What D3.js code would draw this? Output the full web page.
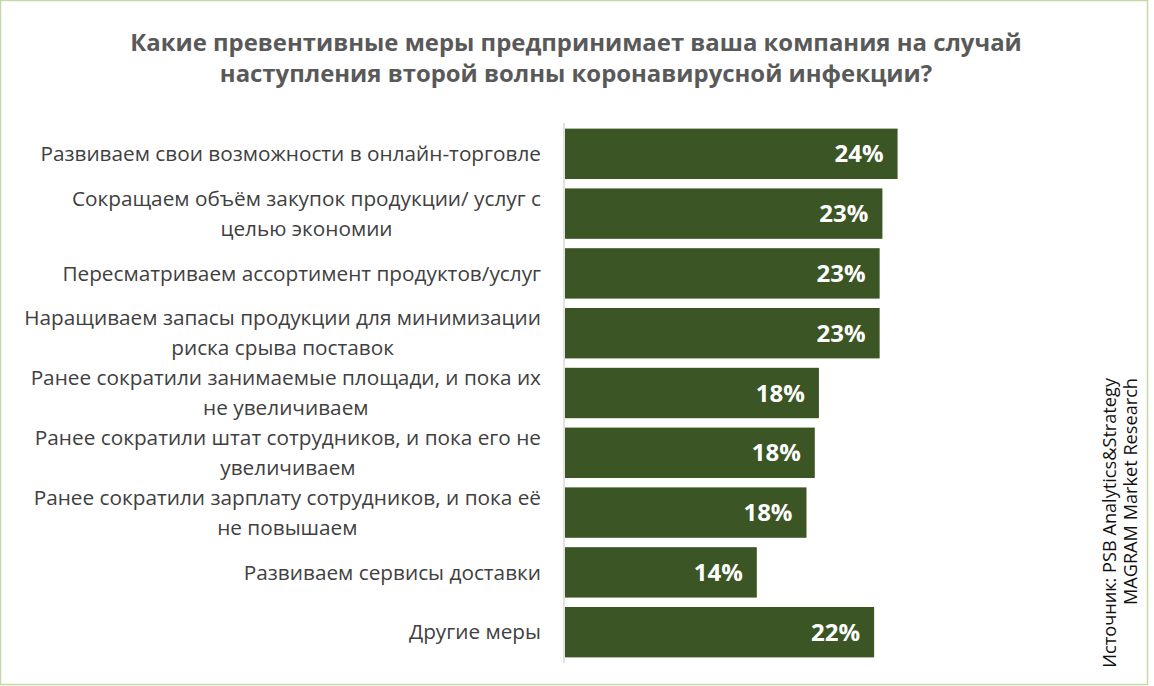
<!DOCTYPE html>
<html>
<head>
<meta charset="utf-8">
<title>Превентивные меры</title>
<script src="https://cdn.jsdelivr.net/npm/d3@7"></script>
<style>
  html, body { margin: 0; padding: 0; background: #fff; }
  svg { display: block; }
  text { font-family: "Open Sans", "DejaVu Sans", sans-serif; }
</style>
</head>
<body>
<div id="chart"></div>
<script>
// data
var titleLines = [
  "Какие превентивные меры предпринимает ваша компания на случай",
  "наступления второй волны коронавирусной инфекции?"
];
var categories = [
  "Развиваем свои возможности в онлайн-торговле",
  "Сокращаем объём закупок продукции/ услуг с\nцелью экономии",
  "Пересматриваем ассортимент продуктов/услуг",
  "Наращиваем запасы продукции для минимизации\nриска срыва поставок",
  "Ранее сократили занимаемые площади, и пока их\nне увеличиваем",
  "Ранее сократили штат сотрудников, и пока его не\nувеличиваем",
  "Ранее сократили зарплату сотрудников, и пока её\nне повышаем",
  "Развиваем сервисы доставки",
  "Другие меры"
];
var values = [24.1, 23.0, 22.8, 22.8, 18.4, 18.1, 17.5, 13.9, 22.4];
var sourceLines = ["Источник: PSB Analytics&Strategy", "MAGRAM Market Research"];

var W = 1154, H = 686;
var svg = d3.select("#chart").append("svg")
  .attr("width", W).attr("height", H);

// frame
svg.append("rect")
  .attr("x", 0.5).attr("y", 0.5)
  .attr("width", 1147).attr("height", 684)
  .attr("fill", "#fff").attr("stroke", "#c4d9a6").attr("stroke-width", 1.5);

// shrink/grow font so a line matches the width seen in the picture
function fit(sel, target) {
  var size = parseFloat(sel.attr("font-size"));
  var w = sel.node().getComputedTextLength();
  sel.attr("font-size", (size * target / w).toFixed(2));
}

// title
var title = svg.append("g");
titleLines.forEach(function(t, i) {
  title.append("text")
    .attr("x", 576).attr("y", 51 + i * 31)
    .attr("text-anchor", "middle")
    .attr("font-size", 26).attr("font-weight", "bold")
    .attr("fill", "#595959")
    .text(t);
});
fit(title.select("text"), 892);
title.selectAll("text").attr("font-size", title.select("text").attr("font-size"));

var y = d3.scaleBand()
  .domain(categories)
  .range([123, 663])
  .paddingInner(0.157)
  .paddingOuter(0.094);

var x = d3.scaleLinear()
  .domain([0, 25])
  .range([565, 910]);

// bars
svg.selectAll("rect.bar")
  .data(values)
  .enter().append("rect")
  .attr("class", "bar")
  .attr("x", x(0))
  .attr("y", function(d, i) { return y(categories[i]); })
  .attr("width", function(d) { return x(d) - x(0); })
  .attr("height", y.bandwidth())
  .attr("fill", "#3b5524");

// axis line
svg.append("line")
  .attr("x1", 564).attr("x2", 564)
  .attr("y1", 123).attr("y2", 663)
  .attr("stroke", "#d9d9d9").attr("stroke-width", 1.5);

// category labels, wrapped lines centred on each other, block right aligned
var labelSize = 19;
var probe = svg.append("text").attr("font-size", labelSize)
  .text(categories[0].split("\n")[0]);
fit(probe, 501);
labelSize = parseFloat(probe.attr("font-size"));
probe.remove();

categories.forEach(function(c, i) {
  var lines = c.split("\n");
  var cy = y(c) + y.bandwidth() / 2;
  var g = svg.append("g");
  var texts = lines.map(function(l, j) {
    return g.append("text")
      .attr("font-size", labelSize)
      .attr("fill", "#404040")
      .attr("dy", "0.35em")
      .attr("y", cy + (j - (lines.length - 1) / 2) * 30)
      .text(l);
  });
  var maxW = d3.max(texts, function(t) { return t.node().getComputedTextLength(); });
  var mid = 541 - maxW / 2;
  texts.forEach(function(t) { t.attr("x", mid).attr("text-anchor", "middle"); });
});

// value labels
svg.selectAll("text.val")
  .data(values)
  .enter().append("text")
  .attr("class", "val")
  .attr("x", function(d) { return x(d) - 14; })
  .attr("y", function(d, i) { return y(categories[i]) + y.bandwidth() / 2; })
  .attr("dy", "0.36em")
  .attr("text-anchor", "end")
  .attr("font-size", 24).attr("font-weight", "bold")
  .attr("fill", "#fff")
  .text(function(d) { return Math.round(d) + "%"; });

// source, rotated
var src = sourceLines.map(function(s, i) {
  return svg.append("text")
    .attr("transform", "translate(" + (1116 + i * 21) + ",378) rotate(-90)")
    .attr("text-anchor", "end")
    .attr("font-size", 16)
    .attr("fill", "#111")
    .text(s);
});
fit(src[0], 290);
src[1].attr("font-size", src[0].attr("font-size"));
</script>
</body>
</html>
